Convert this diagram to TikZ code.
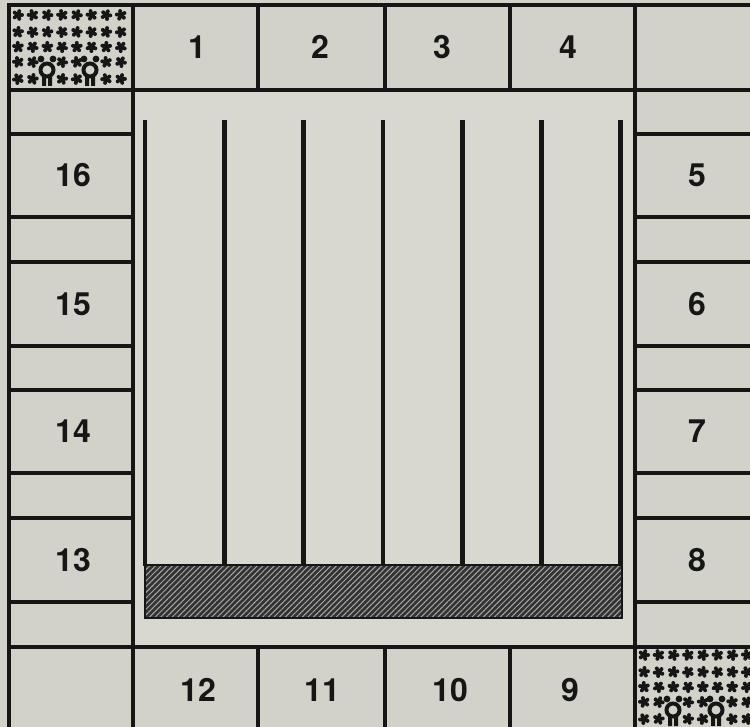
\documentclass[tikz,border=0pt]{standalone}
\usepackage{fontspec}
\setmainfont{TeX Gyre Heros}
\usetikzlibrary{patterns.meta}
\definecolor{paper}{HTML}{D2D2CA}
\definecolor{inner}{HTML}{D8D8D1}
\definecolor{ink}{HTML}{161616}
\definecolor{hatch}{HTML}{333333}

\tikzset{
  wall/.style={ink, line width=2pt},
  num/.style={font=\bfseries\fontsize{16}{16}\selectfont, text=ink},
  rod/.style={ink, line width=2.4pt},
}

% speckled corner cell, origin at its top left corner
\newcommand{\speckle}[2]{%
  \begin{scope}[shift={(#1,#2)}]
    \foreach \i in {0,...,7}
      \foreach \j/\yy in {0/10,1/27,2/42,3/57,4/74} {
        \pgfmathtruncatemacro\hole{((\i==2) || (\i==5)) && (\j>2)}
        \ifnum\hole=0
          \pgfmathsetmacro\xx{9+14.7*\i}
          \pgfmathsetmacro\ang{\i*37+\j*61}
          \fill[ink] (\xx,\yy) circle (3.6);
          \foreach \k in {0,72,144,216,288}
            \fill[ink] (\xx,\yy) ++(\ang+\k:4) circle (2);
        \fi
      }
    \foreach \cx in {38,81} {
      \fill[ink] (\cx-6,54) circle (3.4) (\cx+6,54) circle (3.4);
      \fill[ink] (\cx-5,71) rectangle (\cx-1,81) (\cx+1,71) rectangle (\cx+5,81);
      \draw[ink, line width=2pt, fill=paper] (\cx,65) circle (6.5);
    }
  \end{scope}}

\begin{document}
\begin{tikzpicture}[x=0.5pt, y=-0.5pt]
  \useasboundingbox (0,0) rectangle (750,727);
  \clip (0,0) rectangle (750,727);
  \fill[paper] (0,0) rectangle (750,727);
  \fill[inner] (133,90) rectangle (635,647);

  % corner cells
  \speckle{9}{5}
  \speckle{635}{645}

  % frame and cells
  \draw[wall] (9,5) rectangle (762,735);
  \draw[wall] (9,90) -- (762,90) (9,647) -- (762,647);
  \draw[wall] (133,5) -- (133,735) (635,5) -- (635,735);
  \foreach \x in {258,385,510} {
    \draw[wall] (\x,5) -- (\x,90);
    \draw[wall] (\x,647) -- (\x,735);
  }
  \foreach \y in {134,217,262,346,390,473,518,602} {
    \draw[wall] (9,\y) -- (133,\y);
    \draw[wall] (635,\y) -- (762,\y);
  }

  % rods and hatched base
  \foreach \k in {0,...,6}
    \draw[rod] (145+79.3*\k,120) -- (145+79.3*\k,566);
  \fill[hatch] (145,565) rectangle (622,618);
  \fill[pattern={Lines[angle=45, distance=2pt, line width=0.5pt]}, pattern color=gray!70] (145,565) rectangle (622,618);
  \draw[ink, line width=1pt] (145,565) rectangle (622,618);

  % labels
  \foreach \n/\x in {1/197,2/320,3/442,4/568}
    \node[num] (top\n) at (\x,47) {\n};
  \foreach \n/\y in {16/175,15/304,14/431,13/560}
    \node[num] (left\n) at (73,\y) {\n};
  \foreach \n/\y in {5/175,6/304,7/431,8/560}
    \node[num] (right\n) at (697,\y) {\n};
  \foreach \n/\x in {12/198,11/322,10/450,9/570}
    \node[num] (bottom\n) at (\x,690) {\n};
\end{tikzpicture}
\end{document}
